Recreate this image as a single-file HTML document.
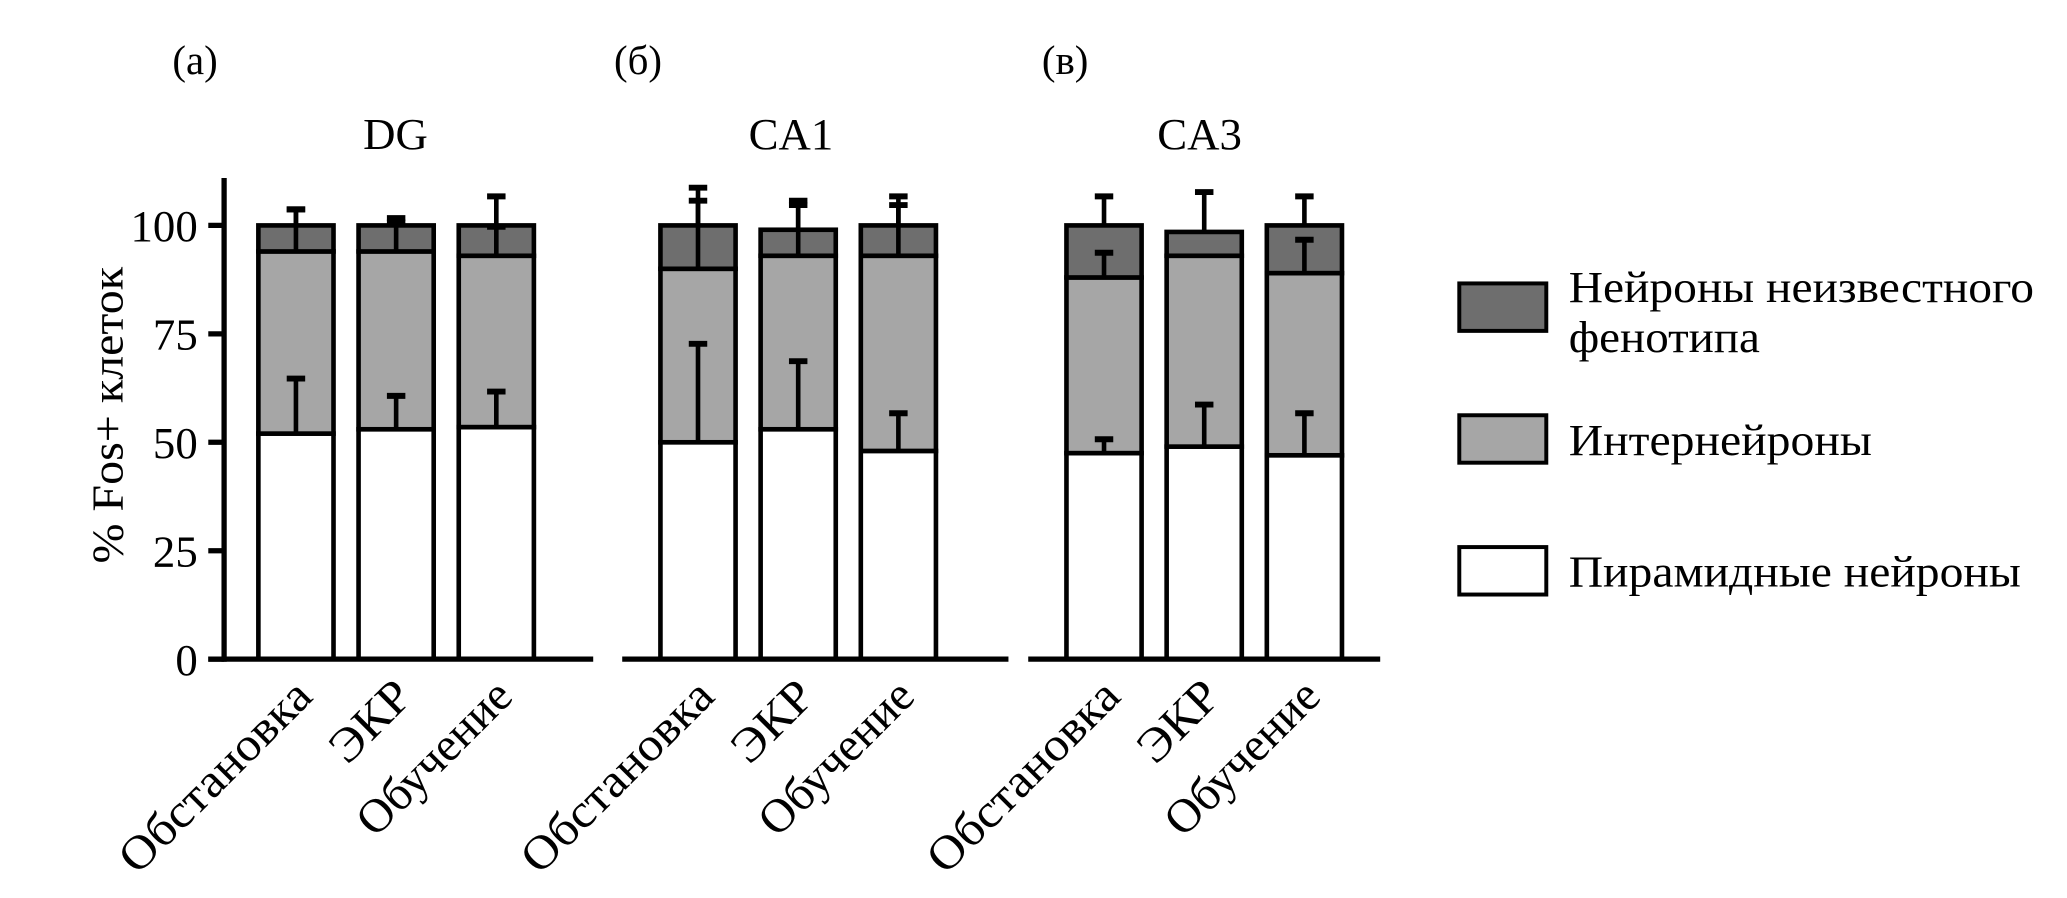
<!DOCTYPE html>
<html><head><meta charset="utf-8">
<style>
html,body{margin:0;padding:0;background:#fff;}
svg{display:block;}
text{font-family:"Liberation Serif","DejaVu Serif",serif;fill:#000;}
</style></head>
<body>
<svg id="chart" width="2067" height="898" viewBox="0 0 1568 681.2" preserveAspectRatio="none" xmlns="http://www.w3.org/2000/svg">
<g id="root"></g>
</svg>
<script>
const panels = ["DG", "CA1", "CA3"];
const panelLetters = ["(а)", "(б)", "(в)"];
const categories = ["Обстановка", "ЭКР", "Обучение"];
const pyramidal = [[52, 53, 53.5], [50, 53, 48], [47.5, 49, 47]];
const interTop = [[94, 94, 93], [90, 93, 93], [88, 93, 89]];
const totalTop = [[100, 100, 100], [100, 99, 100], [100, 98.5, 100]];
const pyrErr = [[65, 61, 62], [73, 69, 57], [51, 59, 57]];
const interErr = [[104, 102, 100], [106, 105, 105], [94, 93, 97]];
const totalErr = [[104, 101, 107], [109, 106, 107], [107, 108, 107]];
const yTicks = [0, 25, 50, 75, 100];
const legendLabels = [["Нейроны неизвестного", "фенотипа"], ["Интернейроны"], ["Пирамидные нейроны"]];

const NS = "http://www.w3.org/2000/svg";
const root = document.getElementById('root');
function el(tag, attrs, parent) {
  const e = document.createElementNS(NS, tag);
  for (const k in attrs) e.setAttribute(k, attrs[k]);
  (parent || root).appendChild(e);
  return e;
}
const baseY = 500, unit = (500 - 171) / 100;
function y(v) { return baseY - v * unit; }
const panelX0 = [158, 472, 780], panelX1 = [450, 765, 1047];
const barLeft = [[196, 272, 348], [501, 577, 653], [809, 885, 961]];
const barW = 57;
const colors = ["#ffffff", "#a6a6a6", "#6e6e6e"];

const ya = el('line', {x1: 170, y1: 135, x2: 170, y2: 502, stroke: '#000', 'stroke-width': 4});


yTicks.forEach(t => {
  const tk = el('line', {x1: 158, y1: y(t), x2: 170, y2: y(t), stroke: '#000', 'stroke-width': 4});
  
  
  const tl = el('text', {x: 150, y: y(t) + 12, 'text-anchor': 'end', 'font-size': 34});
  tl.textContent = t;
  
  
});
const yt = el('text', {x: 0, y: 0, 'text-anchor': 'middle', 'font-size': 34, transform: 'translate(93,315) rotate(-90)', textLength: 225, lengthAdjust: 'spacingAndGlyphs'});
yt.textContent = "% Fos+ клеток";



const letterX = [148, 484, 808];
const titleX = [300, 600, 910];
panels.forEach((p, pi) => {
  const g = el('g', {});
  
  
  const lt = el('text', {x: letterX[pi], y: 56, 'text-anchor': 'middle', 'font-size': 31}, g);
  lt.textContent = panelLetters[pi];
  
  
  const tt = el('text', {x: titleX[pi], y: 113, 'text-anchor': 'middle', 'font-size': 34}, g);
  tt.textContent = p;
  
  
  categories.forEach((c, ci) => {
    const x0 = barLeft[pi][ci], cx = x0 + barW / 2;
    const segs = [[0, pyramidal[pi][ci]], [pyramidal[pi][ci], interTop[pi][ci]], [interTop[pi][ci], totalTop[pi][ci]]];
    const names = ['pyramidal', 'interneurons', 'unknown'];
    segs.forEach((s, si) => {
      const r = el('rect', {x: x0, y: y(s[1]), width: barW, height: y(s[0]) - y(s[1]), fill: colors[si], stroke: '#000', 'stroke-width': 3.5}, g);
      
      
    });
    const errs = [[pyramidal[pi][ci], pyrErr[pi][ci]], [interTop[pi][ci], interErr[pi][ci]], [totalTop[pi][ci], totalErr[pi][ci]]];
    errs.forEach(e => {
      if (e[1] <= e[0]) return;
      const l = el('line', {x1: cx, y1: y(e[0]), x2: cx, y2: y(e[1]), stroke: '#000', 'stroke-width': 3.5}, g);
      
      
      const cap = el('line', {x1: cx - 7, y1: y(e[1]) + 1, x2: cx + 7, y2: y(e[1]) + 1, stroke: '#000', 'stroke-width': 4.5}, g);
      
      
    });
    const lens = [190, 72, 150];
    const xl = el('text', {x: 0, y: 0, 'text-anchor': 'end', 'font-size': 36, textLength: lens[ci], lengthAdjust: 'spacingAndGlyphs', transform: 'translate(' + (cx + 14) + ',' + (baseY + 30) + ') rotate(-45)'}, g);
    xl.textContent = c;
    
    
  });
  const bl = el('line', {x1: panelX0[pi], y1: baseY, x2: panelX1[pi], y2: baseY, stroke: '#000', 'stroke-width': 4}, g);
  
  
});

const legY = [215, 315, 415];
const legColors = ["#6e6e6e", "#a6a6a6", "#ffffff"];
const legLens = [[353, 145], [230], [343]];
legendLabels.forEach((lab, i) => {
  const g = el('g', {});
  
  
  const r = el('rect', {x: 1107, y: legY[i], width: 66, height: 36, fill: legColors[i], stroke: '#000', 'stroke-width': 3}, g);
  
  
  lab.forEach((t, li) => {
    const yy = lab.length === 1 ? legY[i] + 30 : legY[i] + 14 + li * 38;
    const tx = el('text', {x: 1190, y: yy, 'font-size': 34, textLength: legLens[i][li], lengthAdjust: 'spacingAndGlyphs'}, g);
    tx.textContent = t;
    
    
  });
});
</script>
</body></html>
